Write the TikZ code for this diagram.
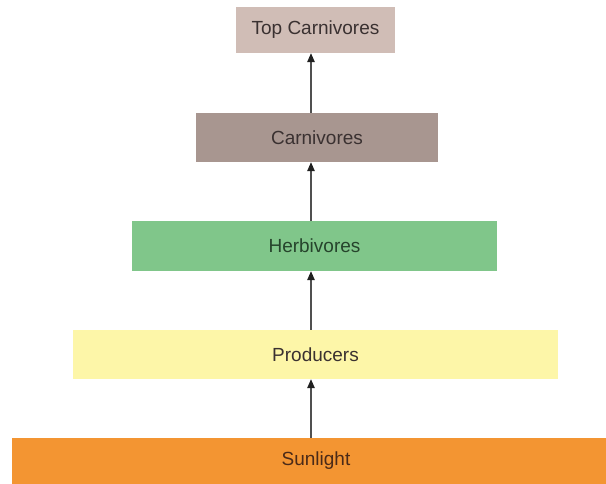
\documentclass[tikz,border=0pt]{standalone}
\usepackage{fontspec}
\setmainfont{Liberation Sans}
\usetikzlibrary{arrows.meta}
\definecolor{topc}{HTML}{D0BDB6}
\definecolor{carc}{HTML}{A89690}
\definecolor{herc}{HTML}{80C68A}
\definecolor{proc}{HTML}{FDF6A8}
\definecolor{sunc}{HTML}{F39532}
\definecolor{txt}{HTML}{3A3131}
\definecolor{htxt}{HTML}{26442C}
\definecolor{stxt}{HTML}{4A2A18}
\definecolor{arrc}{HTML}{505050}
\definecolor{headc}{HTML}{202020}
\tikzset{
  level/.style={rectangle, draw=none, inner sep=0pt, text=txt,
    font=\fontsize{19}{22}\selectfont},
  uparrow/.style={draw=arrc, line width=1.3pt,
    -{Triangle[length=9pt,width=7.5pt,color=headc]}}
}
\begin{document}
\begin{tikzpicture}[x=1pt,y=1pt]
\useasboundingbox (0,0) rectangle (606,-484);
\node[level, fill=topc, minimum width=159pt, minimum height=46pt] (top) at (315.5,-30) {Top Carnivores};
\node[level, fill=carc, minimum width=242pt, minimum height=49pt] (carn) at (317,-137.5) {Carnivores};
\node[level, fill=herc, text=htxt, minimum width=365pt, minimum height=50pt] (herb) at (314.5,-246) {Herbivores};
\node[level, fill=proc, minimum width=485pt, minimum height=49pt] (prod) at (315.5,-354.5) {Producers};
\node[level, fill=sunc, text=stxt, minimum width=594pt, minimum height=46pt] (sun) at (309,-461) {\hspace*{14pt}Sunlight};
\coordinate (ax) at (311,0);
\draw[uparrow] (sun.north -| ax) -- (prod.south -| ax);
\draw[uparrow] (prod.north -| ax) -- (herb.south -| ax);
\draw[uparrow] (herb.north -| ax) -- (carn.south -| ax);
\draw[uparrow] (carn.north -| ax) -- (top.south -| ax);
\end{tikzpicture}
\end{document}
